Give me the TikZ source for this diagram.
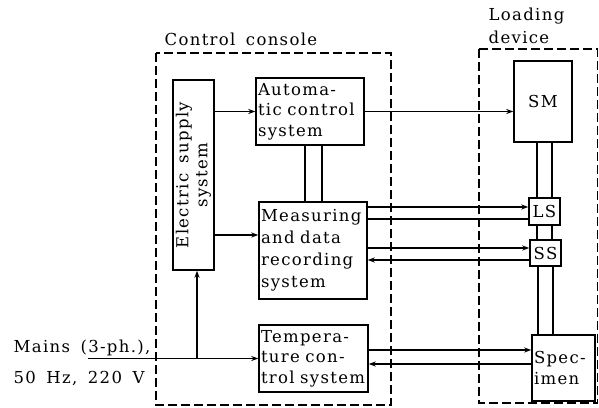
\documentclass[tikz,border=0pt]{standalone}
\usepackage{fontspec}
\setmainfont[LetterSpace=8,WordSpace=1.6]{DejaVu Serif}
\usetikzlibrary{arrows.meta}
\begin{document}
\begin{tikzpicture}[x=1pt,y=-1pt,
  line width=1.3pt,
  txt/.style={font=\fontsize{16.5}{20.5}\selectfont},
  blk/.style={draw, line width=1.4pt, inner sep=2pt, align=left, txt},
  arr/.style={-{Stealth[length=7pt,width=5pt]}},
  frame/.style={draw, line width=1.1pt, dash pattern=on 9pt off 4pt},
]
\useasboundingbox (0,0) rectangle (599,407);
% frames
\draw[frame] (156,53) rectangle (391,405);
\draw[frame] (479,49) rectangle (597.5,403);
% labels
\node[txt, anchor=base west, inner sep=0pt] (lcc) at (164,45) {Control console};
\node[txt, anchor=base west, align=left, inner sep=0pt, font=\fontsize{16.5}{23}\selectfont] (lld) at (488,43) {Loading\\device};
\node[txt, anchor=base west, align=left, inner sep=0pt, font=\fontsize{16.5}{31}\selectfont] (lm) at (13,383) {Mains (3-ph.),\\50 Hz, 220 V};
% blocks
\node[blk, text width=37pt, minimum height=190pt] (elec) at (193.5,175) {};
\node[txt, rotate=90, align=center, font=\fontsize{16.5}{19}\selectfont] (elecT) at (elec.center) {Electric supply\\system};
\node[blk, text width=104pt, minimum height=67pt] (auto) at (310,111.5) {Automa-\\tic control\\system};
\node[blk, text width=104pt, minimum height=97pt, font=\fontsize{16.5}{22}\selectfont] (meas) at (313,250.5) {Measuring\\and data\\recording\\system};
\node[blk, text width=105pt, minimum height=67pt] (temp) at (313.5,358.5) {Tempera-\\ture con-\\trol system};
\node[blk, text width=54pt, minimum height=81pt, align=center] (sm) at (543,101.5) {SM};
\node[blk, text width=27pt, minimum height=27pt, inner sep=2pt, align=center] (ls) at (544.5,211.5) {LS};
\node[blk, text width=27pt, minimum height=26pt, align=center] (ss) at (545.5,253) {SS};
\node[blk, text width=59pt, minimum height=66pt] (spec) at (563.5,368) {Spec-\\imen};
% electric supply connections
\draw[arr] (elec.east |- auto.west) -- (auto.west);
\coordinate (m1) at ([yshift=15.5pt]meas.west);
\draw[arr] (elec.east |- m1) -- (m1);
% mains
\coordinate (mainsL) at (88,358.5);
\draw[arr] (mainsL) -- (temp.west);
\coordinate (junc) at ([xshift=3.5pt]elec.south |- temp.west);
\draw[arr] (junc) -- (junc |- elec.south);
% auto - meas double link
\coordinate (d1) at ([xshift=-5pt]auto.south);
\coordinate (d2) at ([xshift=12pt]auto.south);
\draw (d1) -- (d1 |- meas.north);
\draw (d2) -- (d2 |- meas.north);
% auto -> SM
\draw[arr] (auto.east) -- (sm.west |- auto.east);
% meas <-> LS
\coordinate (a1) at ([yshift=4.5pt]ls.west);
\coordinate (a2) at ([yshift=-7.5pt]ls.west);
\draw[arr] (meas.east |- a1) -- (a1);
\draw (a2) -- (meas.east |- a2);
% meas <-> SS
\coordinate (b1) at ([yshift=5pt]ss.west);
\coordinate (b2) at ([yshift=-7pt]ss.west);
\draw[arr] (meas.east |- b1) -- (b1);
\draw[arr] (b2) -- (meas.east |- b2);
% temp <-> specimen
\coordinate (c1) at ([yshift=18pt]spec.west);
\coordinate (c2) at ([yshift=4pt]spec.west);
\draw[arr] (temp.east |- c1) -- (c1);
\draw[arr] (c2) -- (temp.east |- c2);
% mechanical chain
\coordinate (v1) at ([xshift=-6pt]sm.south);
\coordinate (v2) at ([xshift=9pt]sm.south);
\draw (v1) -- (v1 |- ls.north);
\draw (v2) -- (v2 |- ls.north);
\draw (v1 |- ls.south) -- (v1 |- ss.north);
\draw (v2 |- ls.south) -- (v2 |- ss.north);
\draw ([xshift=1pt]v1 |- ss.south) -- ([xshift=1pt]v1 |- spec.north);
\draw ([xshift=1pt]v2 |- ss.south) -- ([xshift=1pt]v2 |- spec.north);
\end{tikzpicture}
\end{document}
